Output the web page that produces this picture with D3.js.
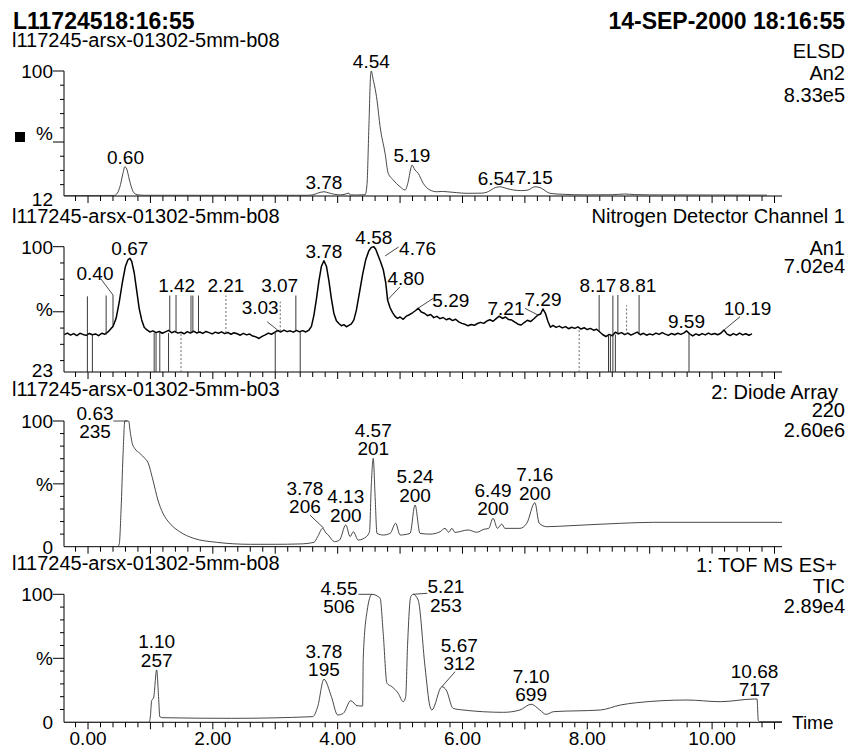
<!DOCTYPE html>
<html>
<head>
<meta charset="utf-8">
<script src="https://cdn.jsdelivr.net/npm/d3@7"></script>
<style>
  html, body { margin: 0; padding: 0; background: #fff; }
  svg { display: block; font-family: "Liberation Sans", Arial, Helvetica, sans-serif; }
</style>
</head>
<body>
<svg id="chart" width="849" height="749"></svg>
<script>
// ---------------- run information ----------------
const runTitle = "L11724518:16:55";
const runDate = "14-SEP-2000 18:16:55";
const sampleNames = [
  "l117245-arsx-01302-5mm-b08",
  "l117245-arsx-01302-5mm-b08",
  "l117245-arsx-01302-5mm-b03",
  "l117245-arsx-01302-5mm-b08"
];
const detectorLabels = [
  ["ELSD", "An2", "8.33e5"],
  ["Nitrogen Detector Channel 1", "An1", "7.02e4"],
  ["2: Diode Array", "220", "2.60e6"],
  ["1: TOF MS ES+", "TIC", "2.89e4"]
];
// lower end of each relative-intensity axis (%), and the tick that carries "%"
const yFloors = [12, 23, 0, 0];
const yMidTicks = [50, 60, 50, 50];
const timeDomain = [-0.385, 11.12];
const timeLabels = [0, 2, 4, 6, 8, 10];

// ---------------- traces: [time (min), relative intensity (%)] ----------------
const elsdTrace = [
  [-0.38,12.3],[0.42,12.4],[0.47,14],[0.52,20],[0.56,28],[0.59,32.6],[0.62,31],[0.66,24],[0.70,17.5],
  [0.74,14],[0.80,12.8],[0.90,12.5],[2.0,12.5],[3.5,12.5],[3.6,12.8],[3.68,14],[3.78,15],[3.85,14.3],
  [3.95,13.2],[4.05,12.8],[4.12,13.3],[4.18,14.0],[4.20,12.8],[4.30,12.7],[4.44,12.9],[4.47,20],
  [4.50,60],[4.53,98.4],[4.54,100],[4.56,96],[4.63,79.6],[4.68,60.8],[4.76,42],[4.81,28],[4.89,23.3],
  [5.00,18.5],[5.08,16.2],[5.13,22],[5.17,31],[5.19,33.8],[5.24,30.3],[5.29,28],[5.37,21],[5.48,16.2],
  [5.59,15],[5.68,15.2],[5.75,15],[5.90,14.4],[6.07,13.9],[6.30,14.0],[6.42,15.2],[6.50,17.4],
  [6.60,18.5],[6.70,17.4],[6.82,16.2],[6.95,15.8],[7.05,16.2],[7.16,18.5],[7.25,17.8],[7.40,13.9],
  [7.60,13.2],[8.0,12.8],[8.4,12.9],[8.6,13.4],[8.75,13.0],[9.0,12.8],[10.0,12.7],[10.88,12.6]
];

const nitrogenTrace = [
  [-0.38,46.0],[-0.33,46.9],[-0.28,45.7],[-0.23,46.6],[-0.18,45.4],[-0.13,46.8],[-0.08,46.1],[-0.03,45.5],
  [0.02,46.7],[0.07,45.9],[0.12,46.4],[0.17,45.3],[0.22,46.8],[0.27,46.2],[0.32,47.6],[0.37,49.8],
  [0.40,51.0],[0.45,56],[0.50,66],[0.55,78],[0.60,88],[0.64,92],[0.67,92.9],[0.70,91],[0.74,84],
  [0.78,73],[0.82,62],[0.86,55],[0.90,50.5],[0.94,49.0],[0.99,47.6],[1.04,48.3],[1.09,47.2],[1.14,47.9],
  [1.19,46.8],[1.24,47.7],[1.29,48.6],[1.34,47.1],[1.39,48.0],[1.44,46.9],[1.49,47.4],[1.54,46.5],
  [1.59,47.8],[1.64,46.9],[1.69,48.1],[1.74,47.0],[1.79,47.6],[1.84,46.7],[1.89,47.9],[1.94,47.2],
  [1.99,46.4],[2.04,47.5],[2.09,46.8],[2.14,47.7],[2.19,46.6],[2.24,47.3],[2.29,46.2],[2.34,47.1],
  [2.39,46.5],[2.44,45.6],[2.49,46.7],[2.54,45.8],[2.59,46.3],[2.64,45.1],[2.69,44.6],[2.74,43.6],
  [2.79,44.9],[2.84,45.8],[2.89,46.9],[2.94,46.2],[2.99,47.4],[3.04,48.5],[3.09,47.6],[3.14,48.7],
  [3.19,47.8],[3.24,48.3],[3.29,47.5],[3.34,48.6],[3.39,47.7],[3.44,48.4],[3.49,47.6],[3.54,48.8],
  [3.58,51],[3.62,58],[3.66,68],[3.70,79],[3.74,88],[3.78,91.4],[3.82,88],[3.86,79],[3.90,68],
  [3.94,59],[3.98,54.5],[4.02,52.8],[4.06,51.4],[4.10,52.1],[4.14,50.8],[4.18,51.7],[4.22,52.6],
  [4.26,55],[4.30,61],[4.35,72],[4.40,83],[4.45,92],[4.50,97.5],[4.54,99.6],[4.58,100],[4.61,98.4],
  [4.65,94.5],[4.69,90.5],[4.73,86],[4.77,78],[4.80,67.3],[4.84,62.5],[4.88,59.5],[4.92,57.2],
  [4.96,56.0],[5.00,56.8],[5.05,55.4],[5.10,57.3],[5.15,58.2],[5.20,59.4],[5.25,60.8],[5.29,62.2],
  [5.34,59.9],[5.39,59.1],[5.44,57.6],[5.49,58.3],[5.54,56.4],[5.59,57.2],[5.64,55.8],[5.69,56.5],
  [5.74,55.1],[5.79,55.9],[5.84,54.6],[5.89,55.4],[5.94,53.8],[5.99,52.9],[6.04,52.3],[6.09,51.4],
  [6.14,52.2],[6.19,51.7],[6.24,52.8],[6.29,53.5],[6.34,52.9],[6.39,54.3],[6.44,55.1],[6.49,54.2],
  [6.54,55.8],[6.59,57.3],[6.64,55.9],[6.69,56.8],[6.74,55.2],[6.79,54.9],[6.84,53.6],[6.89,52.4],
  [6.94,51.9],[6.99,53.4],[7.04,54.8],[7.09,54.0],[7.14,55.6],[7.21,58.0],[7.25,58.6],[7.29,61.7],
  [7.33,59.0],[7.37,54],[7.41,50.5],[7.45,51.6],[7.50,50.4],[7.55,51.2],[7.60,50.1],[7.65,50.9],
  [7.70,49.6],[7.75,50.5],[7.80,49.8],[7.85,50.7],[7.90,49.4],[7.95,50.2],[8.00,49.1],[8.05,49.8],
  [8.10,48.7],[8.15,49.3],[8.20,47.6],[8.25,45.9],[8.30,44.8],[8.35,46.1],[8.40,45.3],[8.45,47.4],
  [8.50,46.5],[8.55,47.2],[8.60,46.0],[8.65,46.9],[8.70,45.7],[8.75,46.6],[8.80,47.5],[8.85,45.9],
  [8.90,46.8],[8.95,45.6],[9.00,46.4],[9.05,45.8],[9.10,46.9],[9.15,46.1],[9.20,47.2],[9.25,46.3],
  [9.30,45.5],[9.35,46.7],[9.40,45.9],[9.45,46.8],[9.50,46.1],[9.55,47.0],[9.59,48.3],[9.64,46.5],
  [9.69,45.2],[9.74,46.4],[9.79,45.6],[9.84,46.6],[9.89,45.8],[9.94,46.9],[9.99,46.0],[10.04,46.7],
  [10.09,45.9],[10.14,46.8],[10.19,48.8],[10.24,46.3],[10.29,45.4],[10.34,46.6],[10.39,45.7],
  [10.44,46.9],[10.49,45.8],[10.54,46.5],[10.59,45.6],[10.64,46.4]
];
// detector spikes: [time, from %, to %]
const nitrogenSpikes = [
  [-0.01,18,69.5],[0.07,18,46],[0.29,46,70],[0.40,51,70.3],[1.06,18,47],[1.09,18,47],[1.15,18,47],
  [1.29,18,47],[1.31,48,70],[1.41,47,70.3],[1.49,18,47],[1.65,47,70],[1.68,47,70],[1.77,47,70],
  [2.21,47,70],[3.00,18,47],[3.08,48,66.2],[3.33,48,70],[3.40,18,48],[7.87,18,50],[8.19,48,70.3],
  [8.34,18,46],[8.37,18,46],[8.41,18,70],[8.45,18,46],[8.49,46,70.3],[8.63,46,64],[8.83,46,70.3],
  [9.63,18,47]
];
const dottedSpikeTimes = [1.49, 2.21, 3.08, 7.87, 8.63];

const diodeTrace = [
  [0.47,0],[0.50,2],[0.53,30],[0.56,72],[0.59,100],[0.65,100],[0.68,90],[0.71,82],[0.75,78],
  [0.83,74.3],[0.91,70.3],[0.96,67],[1.04,53],[1.12,37.1],[1.20,26.6],[1.31,18.6],[1.47,11.9],
  [1.69,6.7],[2.06,3.5],[2.6,1.9],[3.0,1.9],[3.4,2.2],[3.62,3.5],[3.68,8],[3.76,14.6],[3.81,11],
  [3.85,9.3],[3.90,6],[3.95,4],[4.03,5.3],[4.13,17.3],[4.20,8],[4.25,11.9],[4.33,5.3],[4.46,8],
  [4.51,12],[4.54,50],[4.57,70.3],[4.60,40],[4.63,10.6],[4.73,9.3],[4.84,10.6],[4.93,18.6],[5.00,9.3],
  [5.16,10.6],[5.24,33.2],[5.32,10.6],[5.48,10],[5.64,11.9],[5.72,14.6],[5.78,11.5],[5.83,14.6],
  [5.88,11.4],[6.09,13.3],[6.23,11.5],[6.34,13.8],[6.42,14.6],[6.49,22.6],[6.56,14.6],[6.63,18],
  [6.68,14.6],[6.92,14.6],[7.03,18.6],[7.16,35],[7.23,18.6],[7.35,15.9],[7.72,16.7],[8.53,18.6],
  [9.06,19.4],[11.12,19.4]
];

const ticTrace = [
  [-0.38,0],[0.98,0],[1.00,5],[1.02,17],[1.05,19],[1.10,40.9],[1.13,20],[1.15,4.4],[1.20,3.6],
  [2.30,3.1],[3.60,4.4],[3.68,12.2],[3.78,33.6],[3.90,20],[4.00,5.7],[4.09,7],[4.21,16.9],[4.31,13],
  [4.40,12.7],[4.41,50],[4.47,86.4],[4.55,100],[4.68,96.9],[4.73,69.5],[4.79,30.5],[4.87,27.8],
  [4.97,22.7],[5.05,16.1],[5.09,20],[5.12,60],[5.17,98],[5.21,100],[5.29,95.5],[5.40,43.4],
  [5.48,12.2],[5.51,9.6],[5.67,27.8],[5.74,25.2],[5.85,10.9],[6.01,9.6],[6.66,7.8],[6.92,9.6],
  [7.10,14.1],[7.24,9.6],[7.34,6.2],[7.46,8.3],[8.21,9.6],[8.53,13.5],[8.79,15.3],[9.60,17.4],
  [10.13,16.1],[10.68,18.2],[10.72,18.2],[10.74,1.5],[10.76,0.5],[11.12,0.5]
];

// ---------------- labelled peaks: [time, intensity %, (m/z)] ----------------
const elsdPeaks = [[0.60,32.6],[3.78,15],[4.54,100],[5.19,33.8],[6.54,17.4],[7.15,18.5]];
const nitrogenPeaks = [
  [0.40,70.3],[0.67,92.9],[1.42,70.3],[2.21,70.3],[3.07,70.3],[3.03,49],[3.78,91.4],[4.58,100],
  [4.76,94.3],[4.80,67.3],[5.29,62.2],[7.21,58.0],[7.29,61.7],[8.17,70.3],[8.81,70.3],[9.59,48.3],
  [10.19,48.8]
];
const diodePeaks = [
  [0.63,100,235],[3.78,14.6,206],[4.13,17.3,200],[4.57,70.3,201],[5.24,33.2,200],[6.49,22.6,200],[7.16,35,200]
];
const ticPeaks = [
  [1.10,40.9,257],[3.78,33.6,195],[4.55,100,506],[5.21,100,253],[5.67,27.8,312],[7.10,14.1,699],[10.68,18.2,717]
];

// ---------------- layout ----------------
const svg = d3.select("#chart");
const x = d3.scaleLinear().domain(timeDomain).range([64, 782]);

const panels = [
  { top: 71,    bottom: 196,   trace: elsdTrace,     peaks: elsdPeaks,     key: "E",
    sampleY: 47,  detY: [58, 80, 101.7],   detX: [845, 845, 845], square: true, floorDy: 3 },
  { top: 246.7, bottom: 372,   trace: nitrogenTrace, peaks: nitrogenPeaks, key: "N",
    sampleY: 223.3, detY: [223.3, 255, 273.3], detX: [845, 845, 845], noisy: true, floorDy: -2 },
  { top: 421,   bottom: 546.7, trace: diodeTrace,    peaks: diodePeaks,    key: "D",
    sampleY: 396, detY: [399, 416.7, 436.7], detX: [838, 845, 845], floorDy: 0 },
  { top: 594.3, bottom: 722.3, trace: ticTrace,      peaks: ticPeaks,      key: "T",
    sampleY: 570, detY: [571.7, 593.3, 613.3], detX: [837, 845, 845], floorDy: 0 }
];

// labels that are moved off their peak and joined to it by a leader line
const shifted = {
  "N:0.40": { dx: -18, dy: -12, lead: [6, -1] },
  "N:3.03": { dx: -17, dy: -13, lead: [7, 8] },
  "N:4.76": { dx: 32.5, dy: 2, lead: [-19, -8] },
  "N:4.80": { dx: 18.3, dy: -12, lead: [-6, 2] },
  "N:5.29": { dx: 32.7, dy: 1.4, lead: [-17.5, -8.4] },
  "N:7.21": { dx: -32, dy: 3, lead: [19, -6.7] },
  "N:10.19": { dx: 23.6, dy: -12, lead: [-7.5, 1.7] },
  "D:0.63": { dx: -32.3, dy: 20, lead: [18.3, -17] },
  "D:3.78": { dx: -19, dy: -12, lead: [5, 1.7] },
  "T:4.55": { dx: -33, dy: 22, lead: [19.3, -19] },
  "T:5.21": { dx: 32.7, dy: 20.4, lead: [-18.5, -18.4] },
  "T:5.67": { dx: 17.4, dy: -13.7, lead: [-4.2, 1.7] }
};

const FS = 19;

// run header
svg.append("text").attr("x", 13).attr("y", 28.5)
  .attr("font-size", 23).attr("font-weight", "bold").text(runTitle);
svg.append("text").attr("x", 845).attr("y", 28.5).attr("text-anchor", "end")
  .attr("font-size", 23).attr("font-weight", "bold").text(runDate);

const tickTimes = d3.range(-1, 56).map(i => i / 5);   // minor ticks every 0.2 min

panels.forEach((p, i) => {
  const yMin = yFloors[i];
  const y = d3.scaleLinear().domain([yMin, 100]).range([p.bottom, p.top]);
  const g = svg.append("g");

  // sample and detector headings
  g.append("text").attr("x", 12).attr("y", p.sampleY).attr("font-size", 20).text(sampleNames[i]);
  detectorLabels[i].forEach((s, k) => {
    g.append("text").attr("x", p.detX[k]).attr("y", p.detY[k])
      .attr("text-anchor", "end").attr("font-size", 20).text(s);
  });

  // clip region for the trace
  const clipId = "clip" + i;
  svg.append("clipPath").attr("id", clipId).append("rect")
    .attr("x", 64).attr("y", p.top - 4).attr("width", 720).attr("height", p.bottom - p.top + 4);

  // y axis
  g.append("line").attr("x1", 64).attr("x2", 64).attr("y1", p.top).attr("y2", p.bottom)
    .attr("stroke", "#000").attr("stroke-width", 1);
  const yTickVals = d3.range(100, yMin, -10);
  yTickVals.forEach(v => {
    const major = (v === 100 || v === yMidTicks[i]);
    g.append("line").attr("x1", major ? 53 : 60).attr("x2", 64)
      .attr("y1", y(v)).attr("y2", y(v)).attr("stroke", "#000").attr("stroke-width", 1);
  });
  g.append("text").attr("x", 53).attr("y", y(100)).attr("dy", "0.36em")
    .attr("text-anchor", "end").attr("font-size", FS).text("100");
  g.append("text").attr("x", 53).attr("y", y((yMin + 100) / 2)).attr("dy", "0.36em")
    .attr("text-anchor", "end").attr("font-size", FS).text("%");
  g.append("text").attr("x", 53).attr("y", y(yMin) + p.floorDy).attr("dy", "0.36em")
    .attr("text-anchor", "end").attr("font-size", FS).text(String(yMin));
  if (p.square) {
    g.append("rect").attr("x", 15).attr("y", 132).attr("width", 10).attr("height", 10).attr("fill", "#000");
  }

  // time axis
  g.append("line").attr("x1", 64).attr("x2", 782).attr("y1", p.bottom).attr("y2", p.bottom)
    .attr("stroke", "#000").attr("stroke-width", 1);
  tickTimes.forEach(t => {
    const major = Math.abs(t - Math.round(t)) < 1e-6;
    g.append("line").attr("x1", x(t)).attr("x2", x(t))
      .attr("y1", p.bottom).attr("y2", p.bottom + (major ? 7 : 5))
      .attr("stroke", "#000").attr("stroke-width", 1);
  });

  // trace
  const line = d3.line().x(d => x(d[0])).y(d => y(d[1]))
    .curve(p.noisy ? d3.curveLinear : d3.curveMonotoneX);
  const tg = g.append("g").attr("clip-path", `url(#${clipId})`);
  tg.append("path").datum(p.trace).attr("d", line).attr("fill", "none")
    .attr("stroke", p.noisy ? "#000" : "#333")
    .attr("stroke-width", p.noisy ? 1.5 : 0.9)
    .attr("stroke-linejoin", "round");

  if (p.noisy) {
    nitrogenSpikes.forEach(([t, a, b]) => {
      const dotted = dottedSpikeTimes.some(d => Math.abs(d - t) < 1e-6);
      tg.append("line").attr("x1", x(t)).attr("x2", x(t)).attr("y1", y(a)).attr("y2", y(b))
        .attr("stroke", dotted ? "#555" : "#222").attr("stroke-width", 0.9)
        .attr("stroke-dasharray", dotted ? "2,2" : null);
    });
  }

  // peak annotations
  p.peaks.forEach(pk => {
    const [t, v, mz] = pk;
    const px = x(t), py = y(v);
    const lines = [t.toFixed(2)];
    if (mz != null) lines.push(String(mz));
    const s = shifted[p.key + ":" + t.toFixed(2)] || { dx: 0, dy: 0 };
    const ax = px + s.dx, ay = py - 3 + s.dy;
    const txt = g.append("text").attr("text-anchor", "middle").attr("font-size", FS);
    lines.forEach((l, k) => {
      txt.append("tspan").attr("x", ax).attr("y", ay - (lines.length - 1 - k) * 18.5).text(l);
    });
    if (s.lead) {
      g.append("line").attr("x1", ax + s.lead[0]).attr("y1", ay + s.lead[1])
        .attr("x2", px).attr("y2", py).attr("stroke", "#333").attr("stroke-width", 0.9);
    }
  });

  // time labels on the bottom panel only
  if (i === panels.length - 1) {
    timeLabels.forEach(t => {
      g.append("text").attr("x", x(t)).attr("y", 745).attr("text-anchor", "middle")
        .attr("font-size", FS).text(t.toFixed(2));
    });
    g.append("text").attr("x", 792).attr("y", 729).attr("font-size", FS).text("Time");
  }
});
</script>
</body>
</html>
